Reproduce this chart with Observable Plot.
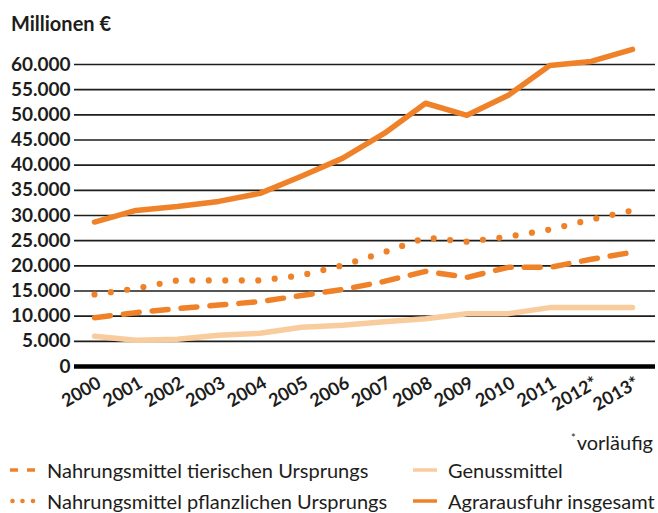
<!DOCTYPE html>
<html><head><meta charset="utf-8">
<script src="https://cdn.jsdelivr.net/npm/d3@7"></script>
<script src="https://cdn.jsdelivr.net/npm/@observablehq/plot@0.6"></script>
<style>
body{margin:0;background:#fff;font-family:Lato,"Open Sans",sans-serif;color:#1d1d1b;}
#wrap{position:relative;width:658px;height:513px;overflow:hidden;}
#title{position:absolute;left:11px;top:11px;font-size:20px;line-height:24px;font-weight:700;}
#chart{position:absolute;left:0;top:40px;}
#note{position:absolute;right:5px;top:426px;font-size:20px;line-height:24px;}
#note sup{font-size:11px;vertical-align:8px;margin-right:1px;}
.leg{position:absolute;font-size:20px;line-height:24px;height:24px;display:flex;align-items:center;white-space:nowrap;}
.leg svg{display:block;margin-right:11px;}
</style></head>
<body>
<div id="wrap">
  <div id="title">Millionen €</div>
  <div id="chart"></div>
  <div id="note"><sup>*</sup>vorläufig</div>
  <div id="legend"></div>
</div>
<script>
const years = [2000,2001,2002,2003,2004,2005,2006,2007,2008,2009,2010,2011,2012,2013];
const yearLabels = ["2000","2001","2002","2003","2004","2005","2006","2007","2008","2009","2010","2011","2012*","2013*"];
const tierisch   = [9700,10700,11500,12200,12900,14100,15300,16900,18900,17700,19700,19700,21300,22700];
const pflanzlich = [14300,15500,17100,17100,17100,18100,20100,22700,25600,24800,25800,27200,29200,31000];
const genuss     = [6000,5200,5400,6200,6600,7800,8200,8900,9500,10500,10500,11700,11700,11700];
const gesamt     = [28700,31000,31800,32800,34400,37800,41400,46300,52300,49900,53900,59800,60600,63000];
const yTicks = [0,5000,10000,15000,20000,25000,30000,35000,40000,45000,50000,55000,60000];
const seriesNames = ["Nahrungsmittel tierischen Ursprungs","Nahrungsmittel pflanzlichen Ursprungs","Genussmittel","Agrarausfuhr insgesamt"];

const ORANGE = "#EF8229", LIGHT = "#F9CC9E";
const rows = vals => years.map((y, i) => ({year: y, value: vals[i]}));
const de = d3.formatLocale({decimal: ",", thousands: ".", grouping: [3], currency: ["", " €"]});
const fmt = de.format(",");

const chart = Plot.plot({
  width: 658, height: 380,
  marginTop: 24, marginBottom: 54, marginLeft: 94, marginRight: 26,
  style: {fontFamily: "Lato, 'Open Sans', sans-serif", background: "transparent", color: "#1d1d1b"},
  x: {type: "linear", domain: [2000, 2013]},
  y: {domain: [0, 60000]},
  marks: [
    Plot.ruleY(yTicks.filter(d => d > 0), {stroke: "#1d1d1b", strokeWidth: 1.6, insetLeft: -20, insetRight: -23}),
    Plot.ruleY([0], {stroke: "#000", strokeWidth: 4.5, insetLeft: -20, insetRight: -23}),
    Plot.lineY(rows(genuss), {x: "year", y: "value", stroke: LIGHT, strokeWidth: 5.5}),
    Plot.lineY(rows(tierisch), {x: "year", y: "value", stroke: ORANGE, strokeWidth: 5.5, strokeDasharray: "16 13", strokeLinecap: "round"}),
    Plot.lineY(rows(pflanzlich), {x: "year", y: "value", stroke: ORANGE, strokeWidth: 6.2, strokeDasharray: "0 16.5", strokeLinecap: "round"}),
    Plot.lineY(rows(gesamt), {x: "year", y: "value", stroke: ORANGE, strokeWidth: 5.5}),
    Plot.axisY({ticks: yTicks, tickSize: 0, tickPadding: 24, tickFormat: fmt, fontSize: 19, fontWeight: "bold", label: null}),
    Plot.axisX({ticks: years, tickSize: 0, tickRotate: -30, tickPadding: 15, dx: 5,
      tickFormat: d => yearLabels[years.indexOf(d)], fontSize: 18, fontWeight: "bold", label: null})
  ]
});
document.getElementById("chart").appendChild(chart);

// legend
const legend = document.getElementById("legend");
const swatches = [
  `<svg width="26" height="10"><line x1="0" y1="5" x2="26" y2="5" stroke="${ORANGE}" stroke-width="3.5" stroke-dasharray="8 9"/></svg>`,
  `<svg width="26" height="10"><circle cx="2.5" cy="5" r="2.3" fill="${ORANGE}"/><circle cx="12.5" cy="5" r="2.3" fill="${ORANGE}"/><circle cx="23" cy="5" r="2.3" fill="${ORANGE}"/></svg>`,
  `<svg width="24" height="10"><line x1="0" y1="5" x2="24" y2="5" stroke="${LIGHT}" stroke-width="3.5"/></svg>`,
  `<svg width="24" height="10"><line x1="0" y1="5" x2="24" y2="5" stroke="${ORANGE}" stroke-width="3.5"/></svg>`
];
const pos = [[10, 458], [10, 489], [413, 458], [413, 489]];
seriesNames.forEach((name, i) => {
  const d = document.createElement("div");
  d.className = "leg";
  d.style.left = pos[i][0] + "px";
  d.style.top = pos[i][1] + "px";
  d.innerHTML = swatches[i] + `<span>${name}</span>`;
  legend.appendChild(d);
});
</script>
</body></html>
